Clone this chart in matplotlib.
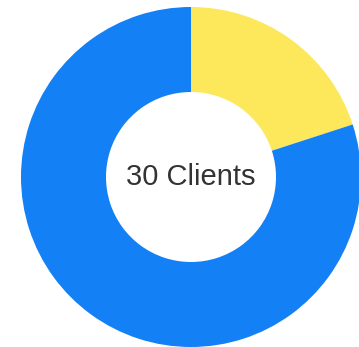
import matplotlib
matplotlib.use("Agg")
import matplotlib.pyplot as plt

labels = ["Segment A", "Segment B"]
values = [6, 24]
colors = ["#FCE85A", "#1480F5"]
center_text = "30 Clients"

W, H = 359, 347
fig = plt.figure(figsize=(W / 100, H / 100), dpi=100)
ax = fig.add_axes([0, 0, 1, 1])
cx, cy, R = 191, 177, 170
ax.pie(values, colors=colors, startangle=90, counterclock=False, radius=1,
       wedgeprops=dict(width=0.5, linewidth=0))
ax.set_xlim((0 - cx) / R, (W - cx) / R)
ax.set_ylim((cy - H) / R, (cy - 0) / R)
ax.set_aspect("auto")
ax.axis("off")
ax.text(0, 0, center_text, ha="center", va="center", fontsize=21,
        family=["Liberation Sans", "DejaVu Sans"], color="#333333")
fig.savefig("out.png", dpi=100, facecolor="white")
